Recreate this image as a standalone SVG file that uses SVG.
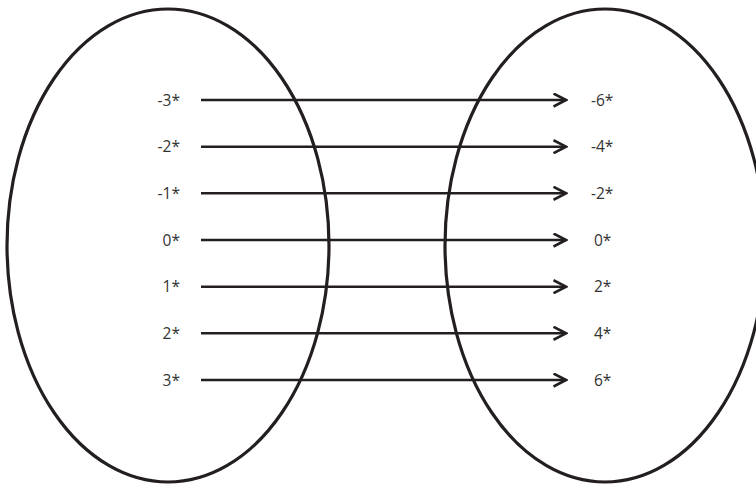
<svg xmlns="http://www.w3.org/2000/svg" width="756" height="486" viewBox="0 0 756 486">
<style>
.set{fill:none;stroke:#231f20;stroke-width:3.2}
.lbl{font-family:"Open Sans","Liberation Sans",sans-serif;font-size:15.5px;fill:#333}
.l{text-anchor:end}
.c{stroke:#231f20;stroke-width:2.4;fill:none}
</style>
<defs>
<marker id="ah" viewBox="0 0 15 15" refX="13.5" refY="7.5" markerWidth="15" markerHeight="15" markerUnits="userSpaceOnUse" orient="auto">
<path d="M1,1 L13.5,7.5 L1,14" fill="none" stroke="#231f20" stroke-width="2.6"/>
</marker>
</defs>
<g id="domain"><ellipse class="set" cx="168" cy="245.5" rx="161" ry="236.5"/>
<text class="lbl l" x="180" y="105.5">-3*</text>
<text class="lbl l" x="180" y="152.2">-2*</text>
<text class="lbl l" x="180" y="198.8">-1*</text>
<text class="lbl l" x="180" y="245.5">0*</text>
<text class="lbl l" x="180" y="292.2">1*</text>
<text class="lbl l" x="180" y="338.8">2*</text>
<text class="lbl l" x="180" y="385.5">3*</text>
</g>
<g id="codomain"><ellipse class="set" cx="605" cy="245.5" rx="160" ry="236.5"/>
<text class="lbl" x="591" y="105.5">-6*</text>
<text class="lbl" x="591" y="152.2">-4*</text>
<text class="lbl" x="591" y="198.8">-2*</text>
<text class="lbl" x="594" y="245.5">0*</text>
<text class="lbl" x="594" y="292.2">2*</text>
<text class="lbl" x="594" y="338.8">4*</text>
<text class="lbl" x="594" y="385.5">6*</text>
</g>
<g id="connectors">
<line class="c" x1="201" y1="100" x2="566" y2="100" marker-end="url(#ah)"/>
<line class="c" x1="201" y1="146.7" x2="566" y2="146.7" marker-end="url(#ah)"/>
<line class="c" x1="201" y1="193.3" x2="566" y2="193.3" marker-end="url(#ah)"/>
<line class="c" x1="201" y1="240" x2="566" y2="240" marker-end="url(#ah)"/>
<line class="c" x1="201" y1="286.7" x2="566" y2="286.7" marker-end="url(#ah)"/>
<line class="c" x1="201" y1="333.3" x2="566" y2="333.3" marker-end="url(#ah)"/>
<line class="c" x1="201" y1="380" x2="566" y2="380" marker-end="url(#ah)"/>
</g>
</svg>
